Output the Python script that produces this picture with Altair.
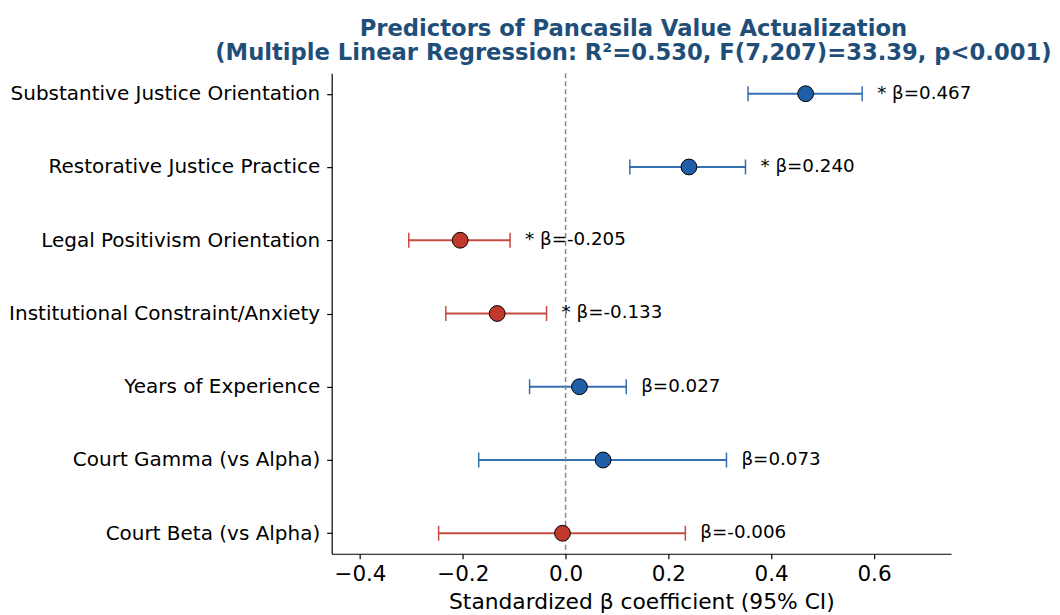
import altair as alt
import pandas as pd

predictors = [
    "Substantive Justice Orientation",
    "Restorative Justice Practice",
    "Legal Positivism Orientation",
    "Institutional Constraint/Anxiety",
    "Years of Experience",
    "Court Gamma (vs Alpha)",
    "Court Beta (vs Alpha)",
]
beta = [0.467, 0.240, -0.205, -0.133, 0.027, 0.073, -0.006]
ci_low = [0.355, 0.125, -0.305, -0.233, -0.070, -0.169, -0.247]
ci_high = [0.577, 0.350, -0.108, -0.037, 0.118, 0.313, 0.233]
significant = [True, True, True, True, False, False, False]
x_ticks = [-0.4, -0.2, 0.0, 0.2, 0.4, 0.6]

BLUE = "#1f5fa8"
RED = "#c0392b"

df = pd.DataFrame({
    "predictor": predictors,
    "beta": beta,
    "lo": ci_low,
    "hi": ci_high,
    "sig": significant,
})
df["sign"] = ["pos" if b >= 0 else "neg" for b in beta]
df["label"] = [("* " if s else "") + f"β={b:.3f}" for s, b in zip(significant, beta)]

font = "DejaVu Sans"

x_scale = alt.Scale(domain=[-0.455, 0.75], nice=False, zero=False)
x_axis = alt.Axis(
    values=x_ticks,
    format=".1f",
    labelExpr="replace(datum.label, '-', '−')",
    title="Standardized β coefficient (95% CI)",
    grid=False,
    domainColor="black",
    domainWidth=1.2,
    tickColor="black",
    tickWidth=1.2,
    labelColor="black",
    titleColor="black",
    labelFontSize=21.5,
    titleFontSize=21.8,
    titleFontWeight="normal",
    labelFont=font,
    titleFont=font,
    tickSize=5,
    labelPadding=5,
    titlePadding=6,
)
y_enc = alt.Y(
    "predictor:N",
    sort=predictors,
    scale=alt.Scale(type="point", padding=0.28),
    axis=alt.Axis(
        title=None,
        grid=False,
        domainColor="black",
        domainWidth=1.2,
        tickColor="black",
        tickWidth=1.2,
        labelColor="black",
        labelFontSize=20,
        labelFont=font,
        labelLimit=500,
        tickSize=5,
        labelPadding=7,
    ),
)
color_scale = alt.Scale(domain=["pos", "neg"], range=[BLUE, RED])
color_enc = alt.Color("sign:N", scale=color_scale, legend=None)

base = alt.Chart(df)

bars = base.mark_rule(strokeWidth=2, opacity=0.9).encode(
    x=alt.X("lo:Q", scale=x_scale, axis=x_axis),
    x2="hi:Q",
    y=y_enc,
    color=color_enc,
)
zero_line = alt.Chart(pd.DataFrame({"z": [0.0]})).mark_rule(
    color="#888888", strokeDash=[5, 3], strokeWidth=1.5
).encode(x=alt.X("z:Q"))
cap_lo = base.mark_tick(size=15, thickness=1.5, opacity=0.9).encode(
    x="lo:Q", y=y_enc, color=color_enc
)
cap_hi = base.mark_tick(size=15, thickness=1.5, opacity=0.9).encode(
    x="hi:Q", y=y_enc, color=color_enc
)
points = base.mark_point(
    filled=True, size=250, stroke="black", strokeWidth=1, opacity=1
).encode(
    x="beta:Q", y=y_enc,
    fill=alt.Fill("sign:N", scale=color_scale, legend=None),
)
labels = base.mark_text(
    align="left", baseline="middle", dx=15, fontSize=18.3, font=font, color="black"
).encode(x="hi:Q", y=y_enc, text="label:N")

chart = alt.layer(bars, zero_line, cap_lo, cap_hi, points, labels).properties(
    width=620,
    height=481,
    padding={"left": 0, "top": 9, "right": 0, "bottom": 0},
    title=alt.TitleParams(
        text=["Predictors of Pancasila Value Actualization",
              "(Multiple Linear Regression: R²=0.530, F(7,207)=33.39, p<0.001)"],
        font=font,
        fontSize=22.7,
        fontWeight="bold",
        color="#1f4e79",
        anchor="middle",
        dx=-8,
        offset=8,
        lineHeight=24,
    ),
).configure_view(strokeWidth=0, stroke=None)

chart.save("out.html", embed_options={"renderer": "svg", "actions": False})
